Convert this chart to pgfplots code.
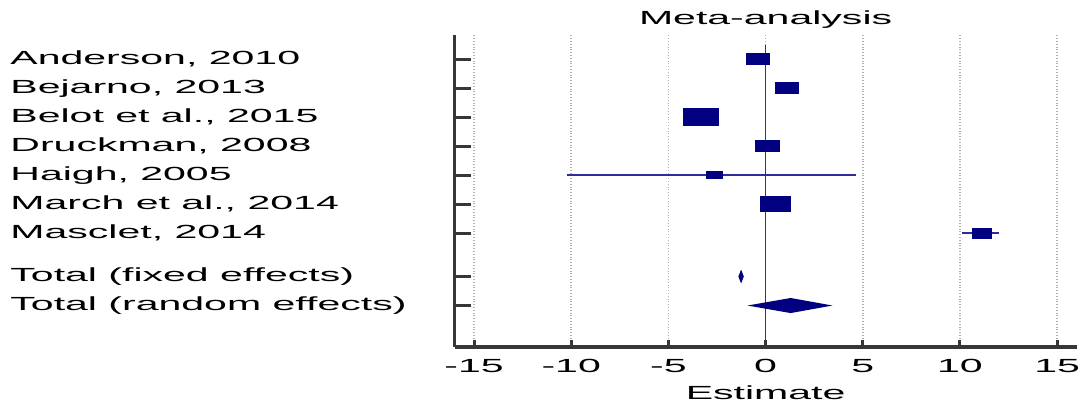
\documentclass[border=0pt]{standalone}
\usepackage{pgfplots}
\pgfplotsset{compat=1.18}
\usepackage{fontspec}
\setmainfont{Liberation Sans}[FakeStretch=2.16]
\definecolor{boxblue}{RGB}{0,0,128}
\definecolor{ciblue}{RGB}{45,45,155}
\definecolor{axgray}{RGB}{55,55,55}
\definecolor{gridgray}{RGB}{175,175,175}
\newcommand{\ff}{\fontsize{9.5}{11}\selectfont}
\begin{document}
\begin{tikzpicture}
\begin{axis}[
  at={(0,0)}, anchor=south west,
  width=311pt, height=156pt, scale only axis,
  xmin=-16, xmax=16, ymin=-10.93, ymax=-0.17,
  axis x line=bottom, axis y line=left,
  axis line style={-, line width=1.7pt, axgray},
  tick align=inside,
  xtick={-15,-10,-5,0,5,10,15},
  xticklabels={-15,-10,-5,0,5,10,15},
  ytick={-1,-2,-3,-4,-5,-6,-7,-8.5,-9.5},
  yticklabels={{Anderson, 2010},{Bejarno, 2013},{Belot et al., 2015},{Druckman, 2008},{Haigh, 2005},{March et al., 2014},{Masclet, 2014},{Total (fixed effects)},{Total (random effects)}},
  xtick style={/pgfplots/major tick length=3.5pt, line width=1.5pt, axgray},
  ytick style={/pgfplots/major tick length=8pt, line width=1.5pt, axgray},
  minor tick num=0,
  xmajorgrids,
  grid style={densely dotted, gridgray, line width=0.9pt},
  xticklabel style={font=\ff, inner sep=0pt, anchor=north, yshift=-5.5pt, text height=7pt},
  yticklabel style={font=\ff, inner sep=0pt, anchor=west, xshift=-222.3pt, text height=7pt, text depth=2pt},
  every axis title shift=0pt,
  title={Meta-analysis},
  title style={font=\ff, at={(axis description cs:0.5,1)}, anchor=base, yshift=5pt, inner sep=0pt},
  xlabel={Estimate},
  xlabel style={font=\ff, at={(axis description cs:0.5,0)}, anchor=base, yshift=-26.5pt, inner sep=0pt},
]
% zero line
\addplot[ciblue, line width=0.7pt] coordinates {(0,-0.52) (0,-10.93)};
% confidence intervals
\addplot[ciblue, line width=1.1pt] coordinates {(-10.2,-5) (4.65,-5)};
\addplot[ciblue, line width=1.1pt] coordinates {(10.13,-7) (12.0,-7)};
% study boxes
\addplot[fill=boxblue, draw=none] coordinates {(-1.0,-0.8) (0.25,-0.8) (0.25,-1.2) (-1.0,-1.2)} -- cycle;
\addplot[fill=boxblue, draw=none] coordinates {(0.46,-1.79) (1.72,-1.79) (1.72,-2.21) (0.46,-2.21)} -- cycle;
\addplot[fill=boxblue, draw=none] coordinates {(-4.26,-2.7) (-2.41,-2.7) (-2.41,-3.3) (-4.26,-3.3)} -- cycle;
\addplot[fill=boxblue, draw=none] coordinates {(-0.52,-3.8) (0.73,-3.8) (0.73,-4.2) (-0.52,-4.2)} -- cycle;
\addplot[fill=boxblue, draw=none] coordinates {(-3.08,-4.87) (-2.2,-4.87) (-2.2,-5.13) (-3.08,-5.13)} -- cycle;
\addplot[fill=boxblue, draw=none] coordinates {(-0.31,-5.73) (1.32,-5.73) (1.32,-6.27) (-0.31,-6.27)} -- cycle;
\addplot[fill=boxblue, draw=none] coordinates {(10.64,-6.81) (11.67,-6.81) (11.67,-7.19) (10.64,-7.19)} -- cycle;
% pooled diamonds
\addplot[fill=boxblue, draw=none] coordinates {(-1.4,-8.5) (-1.26,-8.26) (-1.12,-8.5) (-1.26,-8.74)} -- cycle;
\addplot[fill=boxblue, draw=none] coordinates {(-0.93,-9.5) (1.29,-9.24) (3.44,-9.5) (1.29,-9.76)} -- cycle;
\end{axis}
\pgfresetboundingbox
\useasboundingbox (-227.3pt,-30pt) rectangle (311.7pt,173.5pt);
\end{tikzpicture}
\end{document}
